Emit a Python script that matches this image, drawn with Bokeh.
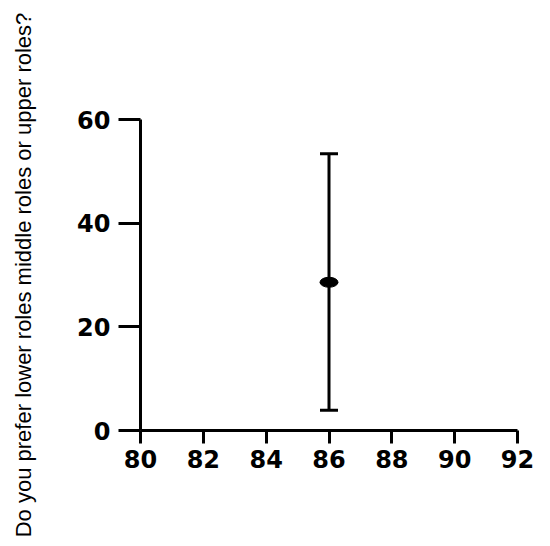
from bokeh.plotting import figure
from bokeh.models import ColumnDataSource, Whisker, Range1d, FixedTicker
from bokeh.embed import file_html
from bokeh.resources import INLINE

# Data
x_vals = [86]
y_mean = [28.6]
y_lower = [3.9]
y_upper = [53.4]
x_ticks = [80, 82, 84, 86, 88, 90, 92]
y_ticks = [0, 20, 40, 60]
y_label = "Do you prefer lower roles middle roles or upper roles?"

src = ColumnDataSource(dict(x=x_vals, y=y_mean, lower=y_lower, upper=y_upper))

p = figure(width=550, height=546, output_backend="svg", toolbar_location=None,
           x_range=Range1d(80, 92), y_range=Range1d(0, 60),
           min_border_left=140, min_border_right=33, min_border_top=119, min_border_bottom=116)
p.outline_line_color = None
p.grid.visible = False
p.background_fill_color = "white"
p.border_fill_color = "white"

w = Whisker(base="x", lower="lower", upper="upper", source=src, dimension="height",
            line_color="black", line_width=3)
w.upper_head.size = 18
w.lower_head.size = 18
w.upper_head.line_width = 3
w.lower_head.line_width = 3
w.upper_head.line_color = "black"
w.lower_head.line_color = "black"
p.add_layout(w)

p.ellipse(x="x", y="y", width=18, height=10, width_units="screen", height_units="screen",
          source=src, fill_color="black", line_color="black")

for ax in (p.xaxis[0], p.yaxis[0]):
    ax.axis_line_width = 3
    ax.axis_line_color = "black"
    ax.major_tick_line_width = 3
    ax.major_tick_line_color = "black"
    ax.minor_tick_line_color = None
    ax.major_tick_in = 0
    ax.major_label_text_font = "DejaVu Sans"
    ax.major_label_text_font_style = "bold"
    ax.major_label_text_font_size = "24px"
    ax.major_label_text_color = "black"

p.xaxis[0].ticker = FixedTicker(ticks=x_ticks)
p.yaxis[0].ticker = FixedTicker(ticks=y_ticks)
p.xaxis[0].major_tick_out = 13
p.yaxis[0].major_tick_out = 22
p.xaxis[0].major_label_standoff = 6
p.yaxis[0].major_label_standoff = 8

p.yaxis[0].axis_label = y_label
p.yaxis[0].axis_label_text_font = "Liberation Sans"
p.yaxis[0].axis_label_text_font_style = "normal"
p.yaxis[0].axis_label_text_font_size = "22px"
p.yaxis[0].axis_label_text_color = "black"
p.yaxis[0].axis_label_standoff = 38

open("out.html", "w").write(file_html(p, INLINE))
